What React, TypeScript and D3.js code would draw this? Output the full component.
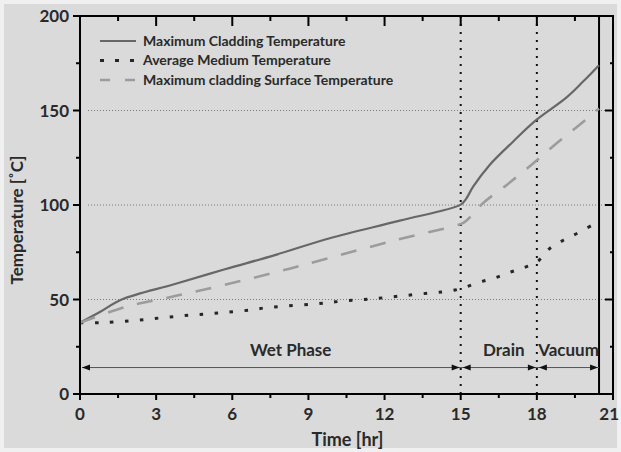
import React from 'react';
import * as d3 from 'd3';

// Maximum Cladding Temperature (solid)
const cladTime = [0, 0.8, 1.64, 3.74, 5.71, 7.68, 9.84, 12.6, 15, 15.2, 15.49, 16.14, 17.06, 17.98, 19.16, 19.82, 20.45];
const cladTemp = [37.7, 43.5, 50, 58.2, 66, 73.5, 82.4, 91.7, 100.2, 103, 109.7, 121.2, 133.5, 145, 156.8, 165.3, 174];

// Average Medium Temperature (dotted)
const medTime = [0, 0.8, 2, 3.2, 4.4, 5.6, 6.8, 7.35, 9.2, 10.4, 11.55, 12.73, 13.9, 14.57, 15.09, 15.72, 16.34, 16.9, 17.52, 18.02, 18.48, 19.06, 19.66, 20.25, 20.45];
const medTemp = [37.7, 37.7, 38.7, 40.3, 41.8, 43, 44.6, 45.7, 47.6, 49.2, 50.4, 52, 53.6, 54.5, 56.1, 59.1, 61.4, 64.2, 67, 70, 76.7, 81.5, 85.5, 89.8, 91];

// Maximum cladding Surface Temperature (dashed)
const surfTime = [0, 1.77, 3.74, 5.71, 7.68, 9.71, 12.47, 14.83, 15.1, 15.4, 15.88, 16.8, 17.72, 18.63, 19.55, 20.45];
const surfTemp = [37.7, 46, 51.8, 57.8, 64.3, 71.6, 81.5, 89.2, 90.5, 94, 101, 110.5, 120.5, 131, 141, 151];

const xTicks = [0, 3, 6, 9, 12, 15, 18, 21];
const xMinor = [1.5, 4.5, 7.5, 10.5, 13.5, 16.5, 19.5];
const yTicks = [0, 50, 100, 150, 200];
const yMinor = [25, 75, 125, 175];
const gridValues = [50, 100, 150];

const phaseNames = ['Wet Phase', 'Drain', 'Vacuum'];
const phaseBounds = [0, 15, 18, 20.45];
const phaseLabelAt = [8.3, 16.7, 19.25];
const phaseLevel = 14;
const markerTimes = [15, 18];
const endTime = 20.45;

const legendNames = ['Maximum Cladding Temperature', 'Average Medium Temperature', 'Maximum cladding Surface Temperature'];

const W = 621;
const H = 452;
const margin = { top: 16, right: 8, bottom: 58, left: 80 };
const font = 'Lato, "Open Sans", sans-serif';

export default function App() {
  const x = d3.scaleLinear().domain([0, 21]).range([margin.left, W - margin.right]);
  const y = d3.scaleLinear().domain([0, 200]).range([H - margin.bottom, margin.top]);
  const x0 = x(0), x1 = x(21), y0 = y(0), y1 = y(200);

  const line = d3
    .line<[number, number]>()
    .x(d => x(d[0]))
    .y(d => y(d[1]))
    .curve(d3.curveCatmullRom.alpha(0.5));

  const zip = (a: number[], b: number[]) => a.map((t, i) => [t, b[i]] as [number, number]);

  const series = [
    { pts: zip(cladTime, cladTemp), stroke: '#676767', width: 2.2, dash: undefined as string | undefined, lgDash: undefined as string | undefined },
    { pts: zip(medTime, medTemp), stroke: '#262626', width: 3, dash: '3.5,11.5', lgDash: '4,11' },
    { pts: zip(surfTime, surfTemp), stroke: '#9c9c9c', width: 2.6, dash: '16,14', lgDash: '10,15' },
  ];

  const ay = y(phaseLevel);
  const head = (tip: number, dir: number) =>
    `M${tip},${ay} L${tip - dir * 8},${ay - 3} L${tip - dir * 8},${ay + 3} Z`;

  return (
    <div style={{ position: 'absolute', left: 0, top: 0 }}>
      <svg width={W} height={H} style={{ display: 'block' }}>
        <rect x={0} y={0} width={W} height={H} fill="#f0f0f0" />
        <rect x={4} y={4} width={W - 8} height={H - 8} fill="#dadada" />

        {/* grid */}
        {gridValues.map(v => (
          <line key={'g' + v} x1={x0 + 8} x2={x1} y1={y(v)} y2={y(v)} stroke="#7a7a7a" strokeWidth={1} strokeDasharray="1,2" />
        ))}

        {/* phase markers */}
        {markerTimes.map(t => (
          <line key={'m' + t} x1={x(t)} x2={x(t)} y1={y1} y2={y0} stroke="#111" strokeWidth={2} strokeDasharray="2,6" />
        ))}
        <line x1={x(endTime)} x2={x(endTime)} y1={y1} y2={y0} stroke="#000" strokeWidth={2} />

        {/* phase arrows */}
        <line x1={x(0) + 2} x2={x(endTime)} y1={ay} y2={ay} stroke="#555" strokeWidth={1} />
        {phaseNames.map((name, i) => {
          const a = x(phaseBounds[i]) + 2;
          const b = x(phaseBounds[i + 1]) - 1;
          return (
            <g key={name}>
              <path d={head(a, -1)} fill="#111" />
              <path d={head(b, 1)} fill="#111" />
              <text x={x(phaseLabelAt[i])} y={ay - 12} textAnchor="middle" fontFamily={font} fontWeight={700} fontSize={17} fill="#2a2a2a">
                {name}
              </text>
            </g>
          );
        })}

        {/* series */}
        {series.map((s, i) => (
          <path key={'s' + i} d={line(s.pts) || ''} fill="none" stroke={s.stroke} strokeWidth={s.width} strokeDasharray={s.dash} />
        ))}

        {/* frame */}
        <rect x={x0} y={y1} width={x1 - x0} height={y0 - y1} fill="none" stroke="#000" strokeWidth={2} />

        {/* y ticks */}
        {yTicks.map(v => (
          <g key={'yt' + v}>
            <line x1={x0 - 7} x2={x0} y1={y(v)} y2={y(v)} stroke="#000" strokeWidth={2} />
            <line x1={x1 - 8} x2={x1} y1={y(v)} y2={y(v)} stroke="#000" strokeWidth={2} />
            <text x={x0 - 11} y={y(v)} dy="0.36em" textAnchor="end" fontFamily={font} fontWeight={700} fontSize={17} fill="#2a2a2a">
              {v}
            </text>
          </g>
        ))}
        {yMinor.map(v => (
          <g key={'ym' + v}>
            <line x1={x0 - 4} x2={x0} y1={y(v)} y2={y(v)} stroke="#000" strokeWidth={2} />
            <line x1={x1 - 3} x2={x1} y1={y(v)} y2={y(v)} stroke="#000" strokeWidth={2} />
          </g>
        ))}

        {/* x ticks */}
        {xTicks.map((v, i) => (
          <g key={'xt' + v}>
            <line x1={x(v)} x2={x(v)} y1={y0} y2={y0 + 6} stroke="#000" strokeWidth={2} />
            <line x1={x(v)} x2={x(v)} y1={y1} y2={y1 + 10} stroke="#000" strokeWidth={2} />
            <text
              x={i === xTicks.length - 1 ? W - 2 : x(v)}
              y={y0 + 26}
              textAnchor={i === xTicks.length - 1 ? 'end' : 'middle'}
              fontFamily={font}
              fontWeight={700}
              fontSize={17}
              fill="#2a2a2a"
            >
              {v}
            </text>
          </g>
        ))}
        {xMinor.map(v => (
          <g key={'xm' + v}>
            <line x1={x(v)} x2={x(v)} y1={y0} y2={y0 + 4} stroke="#000" strokeWidth={2} />
            <line x1={x(v)} x2={x(v)} y1={y1} y2={y1 + 5} stroke="#000" strokeWidth={2} />
          </g>
        ))}

        {/* axis titles */}
        <text x={(x0 + x1) / 2 + 1} y={446} textAnchor="middle" fontFamily={font} fontWeight={700} fontSize={18} fill="#2a2a2a">
          Time [hr]
        </text>
        <text transform={`translate(23,220) rotate(-90)`} textAnchor="middle" fontFamily={font} fontWeight={700} fontSize={17} fill="#2a2a2a">
          Temperature [˚C]
        </text>

        {/* legend */}
        {legendNames.map((name, i) => {
          const ly = 41 + i * 19.5;
          const s = series[i];
          return (
            <g key={'l' + i}>
              <line x1={100} x2={136} y1={ly} y2={ly} stroke={s.stroke} strokeWidth={s.width} strokeDasharray={s.lgDash} />
              <text x={143} y={ly} dy="0.35em" fontFamily={font} fontWeight={700} fontSize={14} fill="#2a2a2a">
                {name}
              </text>
            </g>
          );
        })}
      </svg>
    </div>
  );
}
